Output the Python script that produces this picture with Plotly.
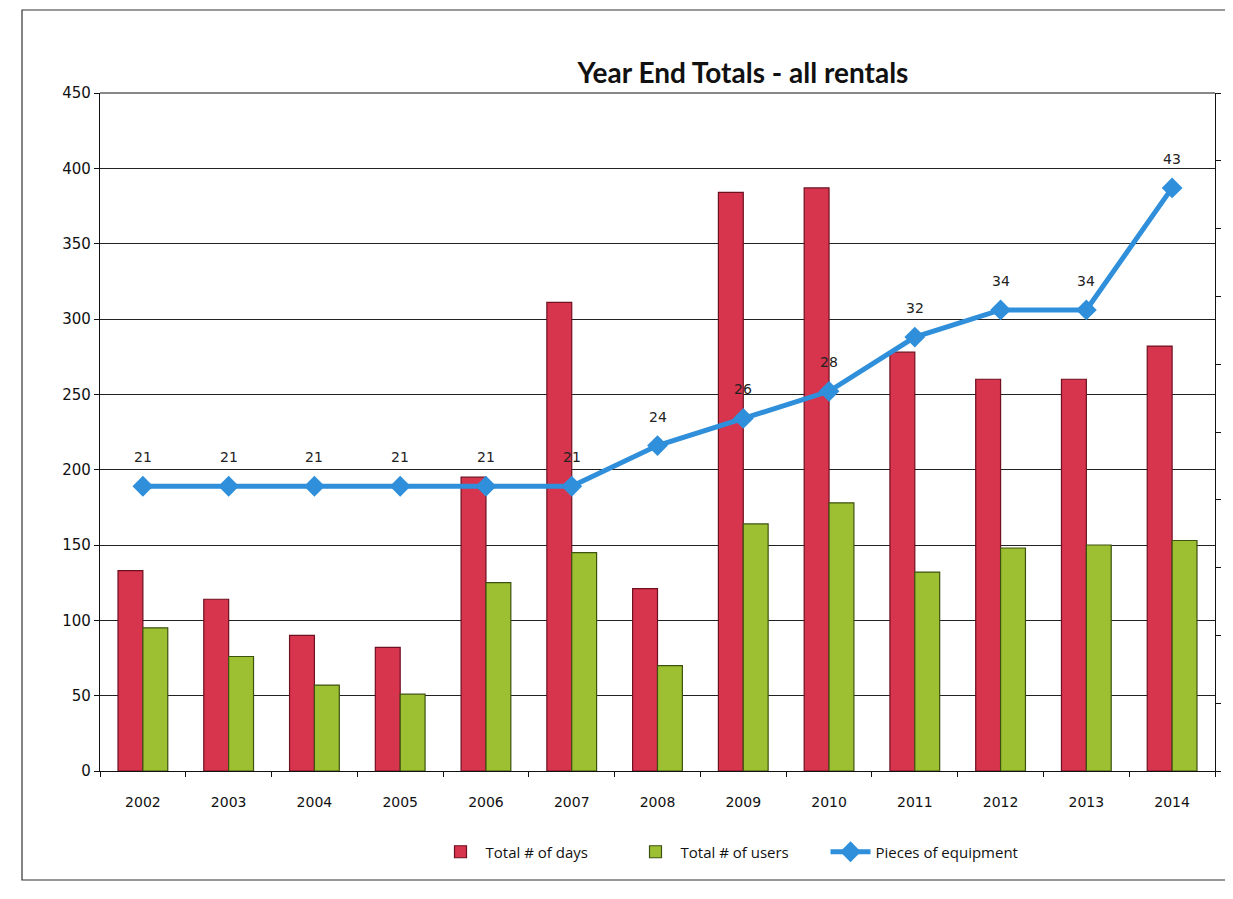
import plotly.graph_objects as go

years = ["2002", "2003", "2004", "2005", "2006", "2007", "2008",
         "2009", "2010", "2011", "2012", "2013", "2014"]
total_days = [133, 114, 90, 82, 195, 311, 121, 384, 387, 278, 260, 260, 282]
total_users = [95, 76, 57, 51, 125, 145, 70, 164, 178, 132, 148, 150, 153]
equipment = [21, 21, 21, 21, 21, 21, 24, 26, 28, 32, 34, 34, 43]

fig = go.Figure()
fig.add_trace(go.Bar(
    x=years, y=total_days, name="Total # of days",
    marker=dict(color="#D7344E", line=dict(color="#6E1020", width=1.2)),
))
fig.add_trace(go.Bar(
    x=years, y=total_users, name="Total # of users",
    marker=dict(color="#9DC033", line=dict(color="#3E5210", width=1.2)),
))
fig.add_trace(go.Scatter(
    x=years, y=equipment, name="Pieces of equipment", yaxis="y2",
    mode="lines+markers",
    line=dict(color="#2F8FDA", width=5),
    marker=dict(symbol="diamond", size=16, color="#2F8FDA"),
    cliponaxis=False,
))

# data labels for the line, placed at each category index through the y2 scale
annotations = [
    dict(x=i, y=v, xref="x", yref="y2", text=str(v), showarrow=False,
         yshift=29, font=dict(family="DejaVu Sans", size=14, color="#222"))
    for i, v in enumerate(equipment)
]

# screen offset of the page body is 8px; plot area on screen: x 100..1215, y 93..771
fig.update_layout(
    width=1233, height=899,
    paper_bgcolor="white", plot_bgcolor="white",
    margin=dict(l=92, r=26, t=85, b=136),
    barmode="group", bargap=0.42, bargroupgap=0,
    title=dict(text="<b>Year End Totals - all rentals</b>",
               x=(743 - 8) / 1233, xanchor="center", y=1 - (73 - 8) / 899, yanchor="middle",
               font=dict(family="Lato", size=28, color="#111")),
    font=dict(family="DejaVu Sans", size=14, color="#111"),
    legend=dict(orientation="h", x=(728 - 100) / 1115, xanchor="center",
                y=(771 - 852) / 678, yanchor="middle",
                font=dict(family="Open Sans", size=15, color="#111"),
                traceorder="normal", itemwidth=40, entrywidth=140),
    annotations=annotations,
    xaxis=dict(type="category", categoryorder="array", categoryarray=years,
               range=[-0.5, len(years) - 0.5],
               showline=True, linecolor="#111", linewidth=1.2,
               ticks="outside", tickson="boundaries", ticklen=5, tickcolor="#111",
               showgrid=False, ticklabelstandoff=18, tickangle=0,
               tickfont=dict(family="DejaVu Sans", size=14)),
    yaxis=dict(range=[0, 450], dtick=50, showline=True, linecolor="#111", linewidth=1.2,
               ticks="outside", ticklen=5, tickcolor="#111",
               showgrid=True, gridcolor="#222", gridwidth=1,
               zeroline=False, mirror=False,
               tickfont=dict(family="DejaVu Sans", size=15)),
    yaxis2=dict(range=[0, 50], dtick=5, overlaying="y", side="right",
                showline=True, linecolor="#111", linewidth=1.2,
                ticks="outside", ticklen=5, tickcolor="#111",
                showticklabels=False, showgrid=False, zeroline=False),
    shapes=[
        dict(type="line", xref="paper", yref="paper", x0=0, x1=1, y0=1, y1=1,
             line=dict(color="#111", width=1.2)),
        dict(type="rect", xref="paper", yref="paper",
             x0=(22 - 100) / 1115, x1=(1228 - 100) / 1115,
             y0=(771 - 880) / 678, y1=(771 - 10) / 678,
             line=dict(color="#333", width=1.2), fillcolor="rgba(0,0,0,0)", layer="below"),
    ],
)

fig.write_html("out.html")
